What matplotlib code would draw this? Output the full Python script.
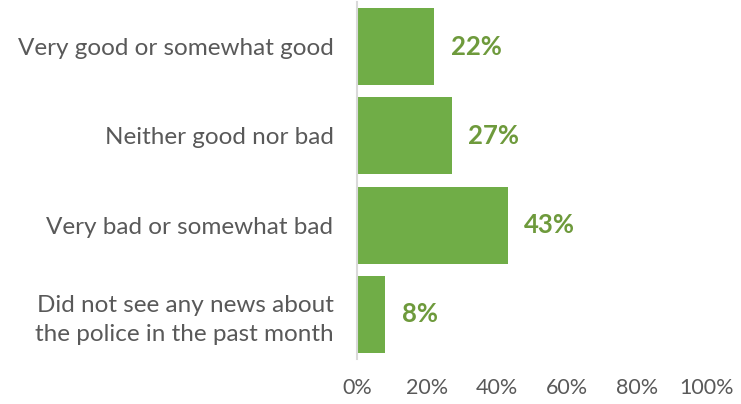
import matplotlib.pyplot as plt
from matplotlib.ticker import PercentFormatter

# survey categories and shares (%)
categories = ['Very good or somewhat good', 'Neither good nor bad',
              'Very bad or somewhat bad',
              'Did not see any news about\nthe police in the past month']
values = [22, 27, 43, 8]
ticks = [0, 20, 40, 60, 80, 100]

plt.rcParams['font.family'] = ['Lato', 'DejaVu Sans']

fig = plt.figure(figsize=(7.41, 4.04), dpi=100)
ax = fig.add_axes([357 / 741, 1 - 359 / 404, 350 / 741, 357 / 404])

y = range(len(categories))
bars = ax.barh(y, values, height=0.86, color='#70AD47')
for b, v in zip(bars, values):
    ax.annotate('%d%%' % v, (b.get_width(), b.get_y() + b.get_height() / 2),
                xytext=(12, 0), textcoords='offset points', va='center',
                ha='left', fontsize=18.5, fontweight='bold', color='#6E9A3C')

ax.set_ylim(3.5, -0.5)
ax.set_xlim(0, 100)
ax.set_yticks(list(y))
ax.set_yticklabels(categories, fontsize=17.5, color='#595959', linespacing=1.45)
ax.set_xticks(ticks)
ax.xaxis.set_major_formatter(PercentFormatter(decimals=0))
ax.tick_params(axis='x', labelsize=15.5, labelcolor='#595959', length=0, pad=14)
ax.tick_params(axis='y', length=0, pad=17)
for s in ['top', 'right', 'bottom']:
    ax.spines[s].set_visible(False)
ax.spines['left'].set_color('#D9D9D9')
ax.spines['left'].set_linewidth(1.5)

fig.savefig('out.png', dpi=100)
